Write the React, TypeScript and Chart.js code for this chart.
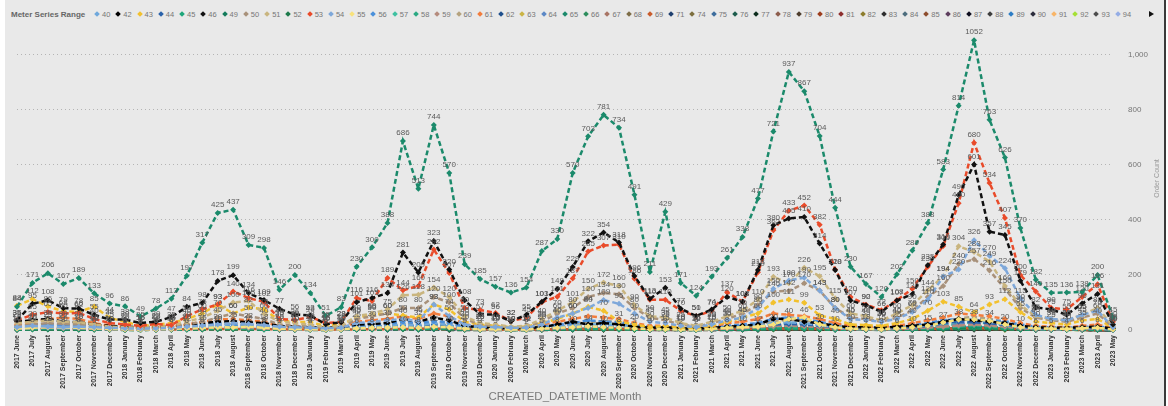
import React, { useEffect, useRef } from 'react';
import { Chart, registerables } from 'chart.js';

Chart.register(...registerables);

// ---------- categories (x tick labels) ----------
const MONTHS: string[] = [
  '2017 June', '2017 July', '2017 August', '2017 September', '2017 October', '2017 November', '2017 December',
  '2018 January', '2018 February', '2018 March', '2018 April', '2018 May', '2018 June', '2018 July', '2018 August', '2018 September', '2018 October', '2018 November', '2018 December',
  '2019 January', '2019 February', '2019 March', '2019 April', '2019 May', '2019 June', '2019 July', '2019 August', '2019 September', '2019 October', '2019 November', '2019 December',
  '2020 January', '2020 February', '2020 March', '2020 April', '2020 May', '2020 June', '2020 July', '2020 August', '2020 September', '2020 October', '2020 November', '2020 December',
  '2021 January', '2021 February', '2021 March', '2021 April', '2021 May', '2021 June', '2021 July', '2021 August', '2021 September', '2021 October', '2021 November', '2021 December',
  '2022 January', '2022 February', '2022 March', '2022 April', '2022 May', '2022 June', '2022 July', '2022 August', '2022 September', '2022 October', '2022 November', '2022 December',
  '2023 January', '2023 February', '2023 March', '2023 April', '2023 May',
];

// ---------- legend order ----------
const SERIES_NAMES: string[] = [
  '40', '42', '43', '44', '45', '46', '49', '50', '51', '52', '53', '54', '55', '56', '57', '58', '59', '60', '61', '62', '63', '64',
  '65', '66', '67', '68', '69', '71', '74', '75', '76', '77', '78', '79', '80', '81', '82', '83', '84', '85', '86', '87', '88', '89',
  '90', '91', '92', '93', '94',
];

const SERIES_COLORS: string[] = [
  '#6fa8dc', '#000000', '#f2c12e', '#2a62aa', '#1fa67a', '#111111', '#137b5b', '#a8917a', '#c9b57f', '#1d7a4b', '#e94b2a', '#7ea8da',
  '#f8e27c', '#4b90da', '#3fc1a1', '#2ba983', '#b58b7d', '#b5a37f', '#f27d3d', '#1e4f8c', '#cbb445', '#5c88c6',
  '#1b8a6b', '#2d8d5d', '#a87464', '#7d6d47', '#c95c2c', '#1e3e6e', '#7d6f3e', '#3d6d9d', '#1d5d4d', '#0d2d1d', '#8d5d4d', '#4d3d2d',
  '#9d3d1d', '#8d2d2d', '#8d7d2d', '#2d2d2d', '#4d6d7d', '#8d4d2d', '#5d3d5d', '#0d0d1d', '#3d3d3d', '#2d7dc5',
  '#2d2d3d', '#f8b568', '#a5e035', '#4d4d4d', '#95ade5',
];

// ---------- main series (full months) ----------
const s65 = [84, 171, 206, 167, 189, 133, 96,
  86, 49, 78, 113, 197, 317, 425, 437, 309, 298, 146, 200,
  134, 51, 83, 230, 300, 388, 686, 513, 744, 570, 239, 185,
  157, 136, 154, 287, 330, 570, 703, 781, 734, 491, 211, 429,
  171, 124, 193, 261, 338, 477, 721, 937, 867, 704, 444, 230,
  167, 120, 202, 289, 388, 583, 814, 1052, 763, 626, 370, 182,
  135, 136, 138, 200, 45];

const s46 = [35, 95, 108, 79, 78, 55, 38,
  38, 25, 30, 47, 84, 98, 178, 199, 134, 109, 77, 56,
  53, 21, 28, 101, 116, 134, 281, 209, 323, 220, 108, 57,
  56, 32, 55, 103, 149, 229, 322, 354, 318, 196, 113, 153,
  77, 51, 74, 120, 103, 218, 380, 405, 410, 314, 218, 107,
  90, 66, 107, 130, 235, 310, 490, 601, 357, 345, 179, 82,
  75, 55, 96, 131, 20];

const s53 = [35, 55, 65, 60, 62, 40, 25,
  20, 15, 22, 18, 50, 75, 93, 140, 116, 102, 40, 36,
  48, 25, 29, 116, 105, 189, 144, 160, 292, 207, 80, 73,
  62, 32, 45, 101, 121, 187, 285, 307, 310, 186, 110, 110,
  70, 50, 70, 137, 103, 210, 362, 433, 452, 382, 220, 120,
  92, 72, 108, 150, 230, 305, 460, 680, 534, 407, 200, 140,
  80, 75, 120, 166, 30];

const s51 = [25, 30, 35, 30, 28, 20, 12,
  10, 8, 12, 15, 30, 45, 70, 100, 105, 60, 30, 25,
  20, 10, 15, 50, 60, 75, 126, 128, 154, 120, 50, 25,
  20, 12, 15, 40, 70, 101, 150, 172, 160, 90, 50, 45,
  25, 15, 30, 50, 70, 110, 193, 170, 226, 195, 115, 60,
  50, 35, 60, 90, 144, 194, 304, 283, 249, 160, 90, 50,
  40, 35, 55, 80, 15];

const s50 = [15, 20, 25, 22, 20, 15, 10,
  8, 6, 8, 10, 20, 30, 45, 60, 50, 40, 20, 15,
  12, 8, 10, 40, 50, 60, 80, 80, 120, 100, 40, 20,
  15, 10, 12, 30, 60, 80, 120, 134, 130, 80, 45, 35,
  20, 12, 25, 40, 60, 90, 140, 142, 170, 143, 80, 45,
  40, 30, 45, 70, 120, 160, 240, 257, 216, 150, 80, 45,
  35, 30, 45, 60, 10];

const s54 = [10, 15, 12, 10, 12, 10, 8,
  6, 5, 6, 8, 12, 15, 20, 25, 22, 18, 12, 10,
  8, 6, 8, 25, 30, 35, 40, 32, 93, 50, 20, 12,
  10, 8, 8, 20, 45, 60, 80, 109, 95, 60, 30, 25,
  15, 10, 20, 35, 45, 80, 150, 180, 190, 143, 80, 40,
  35, 30, 40, 65, 110, 194, 220, 326, 270, 224, 115, 55,
  40, 35, 55, 70, 10];

const s43 = [88, 112, 86, 68, 66, 85, 44,
  30, 15, 20, 25, 40, 60, 93, 60, 82, 75, 35, 30,
  28, 15, 20, 45, 55, 60, 53, 45, 93, 74, 30, 20,
  15, 10, 12, 25, 40, 60, 84, 70, 31, 20, 10, 15,
  10, 8, 15, 30, 45, 60, 100, 111, 99, 53, 40, 20,
  18, 15, 25, 40, 70, 103, 85, 64, 93, 112, 65, 30,
  25, 20, 35, 40, 8];

// ---------- smaller series (full months) ----------
const s55 = [5, 8, 10, 8, 8, 6, 4,
  3, 2, 3, 4, 6, 8, 10, 9, 12, 8, 5, 4,
  3, 2, 3, 6, 8, 9, 10, 8, 12, 10, 5, 3,
  3, 2, 2, 5, 8, 10, 14, 10, 8, 5, 3, 3,
  2, 2, 4, 8, 10, 12, 20, 40, 46, 20, 10, 5,
  4, 3, 6, 10, 15, 27, 38, 38, 34, 20, 10, 6,
  5, 4, 6, 8, 2];

const s42 = [30, 35, 40, 30, 28, 20, 15,
  12, 10, 12, 14, 20, 25, 30, 32, 28, 25, 15, 12,
  10, 8, 10, 20, 22, 25, 40, 30, 45, 35, 15, 10,
  8, 6, 8, 10, 20, 30, 20, 25, 20, 12, 8, 10,
  6, 5, 8, 12, 15, 20, 41, 40, 30, 25, 15, 10,
  10, 8, 12, 15, 20, 30, 40, 35, 30, 25, 15, 10,
  8, 8, 10, 12, 5];

const s61 = [20, 30, 40, 45, 40, 25, 15,
  10, 8, 10, 12, 20, 30, 38, 40, 35, 30, 15, 12,
  10, 6, 8, 30, 35, 40, 50, 40, 60, 50, 20, 15,
  10, 8, 8, 20, 30, 40, 50, 45, 40, 25, 15, 15,
  10, 8, 12, 25, 30, 40, 60, 55, 50, 40, 25, 15,
  12, 10, 15, 25, 35, 45, 60, 55, 50, 40, 25, 15,
  12, 10, 15, 20, 5];

const s44 = [8, 10, 12, 10, 10, 8, 6,
  5, 4, 5, 6, 8, 12, 15, 12, 12, 10, 8, 6,
  5, 4, 5, 10, 12, 14, 15, 12, 20, 15, 8, 6,
  5, 4, 4, 8, 10, 12, 15, 14, 12, 10, 6, 6,
  4, 4, 6, 10, 12, 15, 20, 22, 20, 16, 10, 6,
  6, 5, 8, 10, 15, 25, 30, 28, 25, 18, 10, 6,
  5, 5, 6, 8, 2];

const s56 = [15, 20, 22, 18, 18, 14, 10,
  8, 6, 8, 10, 14, 18, 25, 20, 18, 15, 12, 10,
  8, 6, 8, 18, 20, 22, 30, 25, 32, 28, 12, 10,
  8, 6, 6, 14, 20, 25, 35, 30, 28, 18, 12, 10,
  6, 5, 10, 16, 20, 25, 40, 46, 40, 30, 18, 12,
  10, 8, 12, 18, 25, 36, 38, 38, 34, 32, 20, 12,
  10, 8, 10, 14, 4];

const s40 = [12, 15, 15, 12, 12, 10, 8,
  6, 5, 6, 8, 10, 12, 15, 14, 12, 10, 8, 6,
  5, 4, 5, 10, 12, 14, 20, 16, 25, 18, 8, 6,
  5, 4, 4, 8, 12, 15, 20, 18, 15, 12, 6, 6,
  4, 3, 6, 10, 12, 16, 25, 28, 25, 18, 10, 6,
  6, 5, 8, 12, 18, 36, 38, 38, 30, 20, 10, 6,
  5, 5, 6, 8, 2];

const s45 = [3, 4, 5, 4, 4, 3, 2,
  2, 1, 2, 2, 3, 4, 5, 5, 4, 3, 2, 2,
  1, 1, 1, 3, 4, 4, 5, 4, 6, 5, 2, 1,
  1, 1, 1, 2, 3, 4, 5, 4, 3, 2, 1, 1,
  1, 1, 1, 2, 3, 4, 6, 6, 5, 4, 2, 1,
  1, 1, 2, 3, 4, 6, 11, 10, 8, 5, 3, 2,
  1, 1, 2, 2, 0];

const s49 = [5, 8, 6, 5, 5, 3, 2,
  2, 1, 2, 3, 5, 8, 10, 9, 7, 6, 3, 2,
  2, 1, 1, 4, 5, 6, 9, 7, 11, 8, 3, 2,
  2, 1, 1, 3, 5, 8, 11, 12, 10, 6, 3, 4,
  2, 1, 2, 3, 5, 7, 10, 12, 11, 8, 5, 3,
  2, 2, 3, 4, 6, 8, 11, 13, 10, 8, 4, 3,
  2, 2, 3, 4, 1];

const s52 = [2, 3, 3, 2, 2, 2, 1,
  1, 0, 1, 1, 2, 3, 4, 4, 3, 2, 1, 1,
  1, 0, 1, 2, 2, 3, 4, 3, 5, 4, 1, 1,
  1, 0, 0, 1, 2, 3, 4, 5, 4, 3, 1, 1,
  0, 0, 1, 1, 2, 3, 5, 6, 5, 3, 2, 1,
  1, 1, 1, 2, 3, 5, 7, 8, 6, 4, 2, 1,
  1, 1, 1, 2, 0];

const s57 = [8, 12, 14, 10, 10, 8, 5,
  4, 3, 4, 5, 8, 10, 14, 12, 10, 8, 5, 4,
  3, 2, 3, 8, 10, 12, 16, 14, 20, 15, 6, 4,
  3, 2, 3, 6, 10, 14, 18, 20, 18, 12, 6, 5,
  3, 2, 4, 8, 10, 14, 22, 25, 22, 16, 9, 5,
  4, 3, 5, 8, 12, 16, 22, 30, 24, 18, 10, 5,
  4, 4, 5, 8, 2];

const s58 = [4, 6, 6, 5, 5, 4, 3,
  2, 2, 2, 3, 4, 5, 7, 6, 5, 4, 3, 2,
  2, 1, 2, 4, 5, 6, 8, 7, 10, 8, 3, 2,
  2, 1, 2, 3, 5, 7, 9, 10, 9, 6, 3, 3,
  2, 1, 2, 4, 5, 7, 10, 11, 10, 8, 4, 2,
  2, 2, 3, 4, 6, 9, 12, 15, 12, 8, 5, 3,
  2, 2, 3, 4, 1];

const s66 = [1, 2, 2, 2, 1, 1, 1,
  0, 0, 1, 1, 1, 2, 3, 3, 2, 2, 1, 1,
  0, 0, 1, 1, 2, 2, 3, 2, 4, 3, 1, 1,
  1, 0, 0, 1, 2, 2, 3, 3, 3, 2, 1, 1,
  0, 0, 1, 1, 2, 2, 3, 4, 3, 2, 1, 1,
  1, 0, 1, 1, 2, 3, 4, 5, 4, 3, 1, 1,
  1, 1, 1, 1, 0];

const s59 = [6, 8, 9, 7, 7, 5, 3,
  2, 2, 2, 3, 5, 7, 9, 10, 8, 6, 3, 3,
  2, 1, 2, 5, 6, 7, 10, 8, 12, 9, 4, 2,
  2, 1, 2, 4, 6, 9, 12, 14, 12, 8, 4, 4,
  2, 2, 3, 5, 7, 10, 14, 16, 14, 10, 6, 3,
  3, 2, 4, 6, 9, 12, 16, 20, 16, 12, 6, 4,
  3, 3, 4, 6, 1];

const s60 = [10, 14, 15, 12, 12, 9, 6,
  5, 3, 4, 6, 10, 14, 20, 24, 18, 15, 8, 6,
  5, 3, 4, 10, 12, 15, 24, 20, 30, 24, 10, 6,
  5, 3, 4, 8, 14, 20, 28, 32, 30, 18, 10, 9,
  5, 4, 6, 10, 14, 20, 32, 36, 34, 26, 15, 8,
  7, 5, 8, 12, 20, 30, 42, 48, 40, 30, 16, 9,
  6, 6, 8, 12, 3];

const s64 = [5, 7, 8, 6, 6, 5, 3,
  3, 2, 2, 3, 5, 7, 10, 10, 8, 6, 4, 3,
  2, 2, 2, 5, 6, 8, 12, 10, 14, 11, 5, 3,
  2, 2, 2, 4, 6, 9, 14, 16, 14, 9, 5, 4,
  3, 2, 3, 5, 7, 10, 16, 18, 16, 12, 7, 4,
  3, 3, 4, 6, 10, 14, 20, 24, 20, 14, 8, 4,
  3, 3, 4, 6, 1];

// ---------- sparse small series: [month index, value] ----------
type Pair = [number, number];
const s62: Pair[] = [[0, 2], [3, 3], [7, 1], [12, 4], [14, 5], [19, 1], [24, 3], [27, 6], [31, 1], [36, 4], [38, 7], [43, 2], [48, 5], [50, 8], [55, 2], [60, 6], [62, 9], [67, 2], [71, 0]];
const s63: Pair[] = [[0, 3], [2, 5], [5, 2], [9, 1], [13, 6], [16, 4], [21, 2], [25, 7], [28, 5], [33, 2], [37, 8], [40, 4], [45, 3], [49, 9], [52, 6], [57, 3], [61, 10], [64, 7], [69, 3], [71, 1]];
const s67: Pair[] = [[1, 4], [4, 3], [8, 1], [13, 5], [17, 2], [22, 3], [26, 6], [29, 2], [34, 3], [38, 6], [41, 2], [46, 4], [50, 7], [53, 3], [58, 4], [62, 8], [65, 3], [70, 4], [71, 1]];
const s68: Pair[] = [[0, 1], [6, 1], [12, 2], [18, 1], [25, 3], [30, 1], [37, 3], [42, 1], [49, 4], [54, 2], [61, 5], [66, 2], [71, 0]];
const s69: Pair[] = [[10, 2], [14, 4], [20, 1], [27, 5], [32, 1], [38, 4], [44, 2], [50, 6], [56, 2], [62, 7], [68, 2], [71, 1]];
const s71: Pair[] = [[0, 1], [9, 1], [15, 2], [24, 1], [27, 3], [35, 2], [39, 3], [47, 2], [51, 4], [59, 2], [63, 5], [71, 0]];
const s74: Pair[] = [[30, 1], [34, 2], [38, 3], [42, 1], [46, 2], [50, 4], [54, 1], [58, 3], [62, 5], [66, 2], [71, 0]];
const s75: Pair[] = [[24, 2], [27, 4], [31, 1], [36, 3], [38, 6], [41, 2], [48, 4], [51, 7], [55, 2], [60, 5], [62, 10], [65, 4], [69, 3], [71, 1]];
const s76: Pair[] = [[26, 1], [33, 1], [38, 2], [45, 1], [51, 3], [57, 1], [62, 3], [68, 1], [71, 0]];
const s77: Pair[] = [[28, 0], [36, 1], [40, 2], [46, 1], [52, 2], [58, 1], [63, 3], [70, 1], [71, 0]];
const s78: Pair[] = [[30, 2], [37, 3], [41, 1], [49, 4], [53, 2], [60, 3], [62, 6], [66, 2], [71, 1]];
const s79: Pair[] = [[32, 0], [38, 1], [44, 0], [50, 2], [56, 1], [62, 2], [67, 1], [71, 0]];
const s80: Pair[] = [[34, 1], [38, 2], [43, 1], [50, 3], [55, 1], [61, 4], [64, 2], [71, 0]];
const s81: Pair[] = [[35, 1], [39, 2], [47, 1], [51, 2], [58, 1], [62, 3], [69, 1], [71, 0]];
const s82: Pair[] = [[36, 2], [40, 1], [44, 3], [49, 2], [54, 4], [59, 2], [63, 5], [67, 2], [71, 1]];
const s83: Pair[] = [[38, 1], [42, 2], [48, 1], [52, 3], [57, 1], [62, 4], [68, 2], [71, 0]];
const s84: Pair[] = [[39, 2], [43, 1], [48, 3], [51, 5], [56, 2], [61, 4], [63, 6], [67, 2], [71, 1]];
const s85: Pair[] = [[40, 1], [45, 2], [50, 1], [55, 3], [60, 2], [64, 4], [70, 1], [71, 0]];
const s86: Pair[] = [[41, 0], [46, 1], [52, 2], [58, 1], [62, 2], [66, 1], [71, 0]];
const s87: Pair[] = [[42, 2], [47, 3], [50, 5], [53, 2], [58, 3], [62, 6], [65, 3], [70, 4], [71, 1]];
const s88: Pair[] = [[43, 1], [48, 2], [51, 3], [56, 1], [61, 3], [64, 2], [71, 0]];
const s89: Pair[] = [[44, 2], [49, 4], [52, 3], [57, 5], [60, 8], [62, 11], [65, 5], [68, 3], [71, 1]];
const s90: Pair[] = [[45, 0], [50, 1], [55, 2], [61, 2], [66, 1], [71, 0]];
const s91: Pair[] = [[46, 3], [50, 6], [54, 2], [59, 5], [62, 9], [66, 3], [70, 4], [71, 1]];
const s92: Pair[] = [[40, 2], [41, 3], [42, 5], [43, 4], [44, 6], [45, 3], [46, 2], [52, 1], [60, 2], [64, 1], [71, 0]];
const s93: Pair[] = [[48, 1], [53, 2], [58, 1], [62, 3], [67, 1], [71, 0]];
const s94: Pair[] = [[50, 3], [54, 2], [58, 4], [61, 6], [62, 8], [65, 4], [69, 2], [71, 1]];

function fromPairs(p: Pair[]): (number | null)[] {
  const arr: (number | null)[] = MONTHS.map(() => null);
  p.forEach(([i, v]) => { arr[i] = v; });
  return arr;
}

// draw order: first = on top
const DRAW_ORDER: [string, (number | null)[]][] = [
  ['65', s65], ['46', s46], ['53', s53], ['54', s54], ['51', s51], ['50', s50], ['43', s43],
  ['55', s55], ['42', s42], ['61', s61], ['56', s56], ['40', s40], ['44', s44], ['60', s60],
  ['59', s59], ['64', s64], ['57', s57], ['58', s58], ['49', s49], ['45', s45], ['52', s52], ['66', s66],
  ['62', fromPairs(s62)], ['63', fromPairs(s63)], ['67', fromPairs(s67)], ['68', fromPairs(s68)],
  ['69', fromPairs(s69)], ['71', fromPairs(s71)], ['74', fromPairs(s74)], ['75', fromPairs(s75)],
  ['76', fromPairs(s76)], ['77', fromPairs(s77)], ['78', fromPairs(s78)], ['79', fromPairs(s79)],
  ['80', fromPairs(s80)], ['81', fromPairs(s81)], ['82', fromPairs(s82)], ['83', fromPairs(s83)],
  ['84', fromPairs(s84)], ['85', fromPairs(s85)], ['86', fromPairs(s86)], ['87', fromPairs(s87)],
  ['88', fromPairs(s88)], ['89', fromPairs(s89)], ['90', fromPairs(s90)], ['91', fromPairs(s91)],
  ['92', fromPairs(s92)], ['93', fromPairs(s93)], ['94', fromPairs(s94)],
];

const LABELED_SERIES: string[] = ['65', '46', '53', '54', '51', '50', '43', '55'];

const Y_TICK_STEP = 200;
const Y_MAX = 1100;
const Y_TICK_LAST = 1000;

const FONT = "'Liberation Sans', Arial, sans-serif";

function colorOf(name: string): string {
  return SERIES_COLORS[SERIES_NAMES.indexOf(name)];
}

const valueLabelsPlugin = {
  id: 'valueLabels',
  afterDatasetsDraw(chart: any) {
    const ctx = chart.ctx;
    ctx.save();
    ctx.font = `8px ${FONT}`;
    ctx.fillStyle = '#5a5a5a';
    ctx.textAlign = 'center';
    ctx.textBaseline = 'bottom';
    const dsets = chart.data.datasets;
    for (let di = dsets.length - 1; di >= 0; di--) {
      const ds = dsets[di];
      if (!LABELED_SERIES.includes(ds.label)) continue;
      const meta = chart.getDatasetMeta(di);
      meta.data.forEach((pt: any, i: number) => {
        const v = ds.data[i];
        if (v == null) return;
        ctx.fillText(String(v), pt.x, pt.y - 4);
      });
    }
    ctx.restore();
  },
};

const yTitlePlugin = {
  id: 'yTitle',
  afterDraw(chart: any) {
    const { ctx, chartArea } = chart;
    ctx.save();
    ctx.font = `7px ${FONT}`;
    ctx.fillStyle = '#9a9a9a';
    ctx.textAlign = 'center';
    ctx.textBaseline = 'middle';
    ctx.translate(1157, (chartArea.top + chartArea.bottom) / 2);
    ctx.rotate(-Math.PI / 2);
    ctx.fillText('Order Count', 0, 0);
    ctx.restore();
  },
};

function Legend() {
  return (
    <div style={{ position: 'absolute', left: 11, top: 8, height: 12, display: 'flex', alignItems: 'center', fontFamily: FONT, whiteSpace: 'nowrap' }}>
      <span style={{ width: 83, fontSize: 8, fontWeight: 'bold', color: '#666' }}>Meter Series Range</span>
      {SERIES_NAMES.map((n, i) => (
        <span key={n} style={{ width: 21.27, display: 'inline-flex', alignItems: 'center', fontSize: 7.5, color: '#777' }}>
          <span style={{ width: 4, height: 4, background: SERIES_COLORS[i], transform: 'rotate(45deg)', marginRight: 3, marginLeft: 1, display: 'inline-block' }} />
          {n}
        </span>
      ))}
      <span style={{ marginLeft: 13, width: 0, height: 0, borderTop: '3px solid transparent', borderBottom: '3px solid transparent', borderLeft: '5px solid #111' }} />
    </div>
  );
}

export default function App() {
  const canvasRef = useRef<HTMLCanvasElement | null>(null);

  useEffect(() => {
    document.body.style.margin = '0';
    const canvas = canvasRef.current;
    if (!canvas) return;
    const datasets = DRAW_ORDER.map(([name, data]) => {
      const c = colorOf(name);
      return {
        label: name,
        data,
        borderColor: c,
        backgroundColor: c,
        borderWidth: 2.5,
        borderDash: [5, 3],
        pointStyle: 'rectRot',
        pointRadius: 3,
        pointBorderWidth: 0,
        tension: 0,
        spanGaps: true,
        fill: false,
        clip: false as any,
      };
    });
    const chart = new Chart(canvas, {
      type: 'line',
      data: { labels: MONTHS, datasets: datasets as any },
      options: {
        animation: false,
        responsive: false,
        maintainAspectRatio: false,
        layout: { padding: { left: 17, top: 27, right: 0, bottom: 0 } },
        plugins: { legend: { display: false }, tooltip: { enabled: false } },
        scales: {
          x: {
            offset: false,
            grid: { display: false, drawTicks: false },
            border: { display: false },
            ticks: {
              autoSkip: false,
              maxRotation: 90,
              minRotation: 90,
              padding: 5,
              color: '#333333',
              font: { family: FONT, size: 7, weight: 'bold' },
            },
            title: {
              display: true,
              text: 'CREATED_DATETIME Month',
              color: '#7a7a7a',
              font: { family: FONT, size: 11.5 },
              padding: { top: 0, bottom: 2 },
            },
            afterFit: (s: any) => { s.height = 76; },
          },
          y: {
            position: 'right',
            min: 0,
            max: Y_MAX,
            grid: {
              drawTicks: false,
              color: (ctx: any) => (ctx.tick && ctx.tick.value === 0 ? 'rgba(0,0,0,0)' : '#b4b4b4'),
              lineWidth: 1,
            },
            border: { display: false, dash: [1, 3] },
            ticks: {
              stepSize: Y_TICK_STEP,
              padding: 15,
              color: '#777',
              font: { family: FONT, size: 8 },
              callback: (v: any) => Number(v).toLocaleString('en-US'),
            },
            afterBuildTicks: (s: any) => {
              s.ticks = s.ticks.filter((t: any) => t.value % Y_TICK_STEP === 0 && t.value <= Y_TICK_LAST);
            },
            afterFit: (s: any) => { s.width = 55; },
          },
        },
      } as any,
      plugins: [valueLabelsPlugin, yTitlePlugin],
    });
    return () => chart.destroy();
  }, []);

  return (
    <div style={{ position: 'relative', width: 1168, height: 406, background: '#ffffff', overflow: 'hidden' }}>
      <div style={{ position: 'absolute', left: 5, top: 0, width: 1159, height: 406, background: '#e9e9e9', borderRight: '2px solid #3a3a3a' }} />
      <Legend />
      <canvas ref={canvasRef} width={1168} height={406} style={{ position: 'absolute', left: 0, top: 0, width: 1168, height: 406 }} />
    </div>
  );
}
